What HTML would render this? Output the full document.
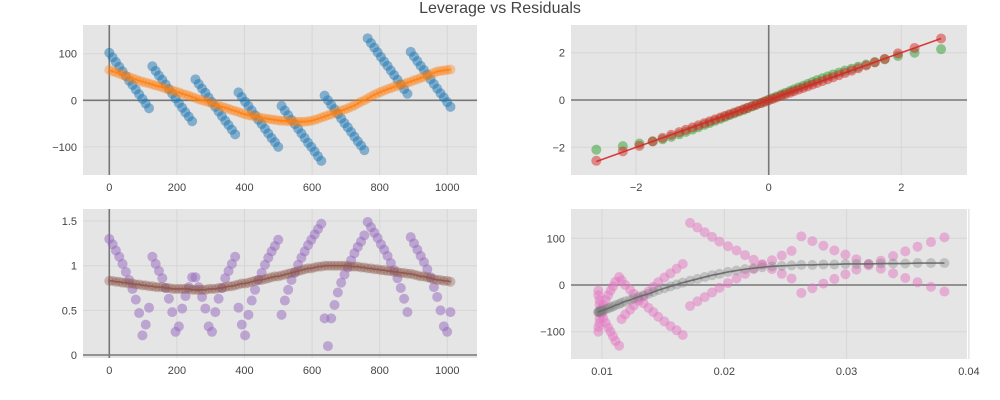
<!DOCTYPE html>
<html><head><meta charset="utf-8"><style>
body{margin:0;background:#fff;width:1000px;height:400px;overflow:hidden}
svg{display:block;font-family:"Liberation Sans",sans-serif}
.t{font-size:11px;fill:#444}
</style></head><body>
<svg id="c" width="1000" height="400">
<text x="500" y="13" text-anchor="middle" font-size="16" fill="#444">Leverage vs Residuals</text>
</svg>
<script>
const xIdx=[0,9.8,19.6,29.4,39.2,49,58.8,68.6,78.4,88.2,98,107.8,117.6,127.4,137.2,147,156.8,166.6,176.4,186.2,196,205.8,215.6,225.4,235.2,245,254.8,264.6,274.4,284.2,294,303.8,313.6,323.4,333.2,343,352.8,362.6,372.4,382.2,392,401.8,411.6,421.4,431.2,441,450.8,460.6,470.4,480.2,490,499.8,509.6,519.4,529.2,539,548.8,558.6,568.4,578.2,588,597.8,607.6,617.4,627.2,637,646.8,656.6,666.4,676.2,686,695.8,705.6,715.4,725.2,735,744.8,754.6,764.4,774.2,784,793.8,803.6,813.4,823.2,833,842.8,852.6,862.4,872.2,882,891.8,901.6,911.4,921.2,931,940.8,950.6,960.4,970.2,980,989.8,999.6,1009.4];
const resid=[102,92,82,72,62,52,42,33,23,13,3,-7,-17, 73,63,53,44,34,24,14,4,-6,-16,-26,-35,-45, 45,35,25,16,6,-4,-14,-24,-34,-44,-53,-63,-73, 17,7,-3,-12,-22,-32,-42,-51,-61,-71,-81,-90,-100, -12,-22,-32,-42,-51,-61,-71,-81,-91,-100,-110,-120,-130, 10,0,-10,-19,-29,-39,-49,-58,-68,-78,-88,-97,-107, 133,123,113,103,93,83,74,64,54,44,34,24,14, 104,94,84,74,65,55,45,35,25,15,6,-4,-14];
const fitted=[65,62,60,57,55,52,50,47,45,42,40,38,36,34,32,30,28,25,23,21,19,17,14,12,10,7,5,2,0,-2,-4,-7,-9,-11,-14,-16,-18,-21,-23,-25,-28,-30,-32,-33,-35,-36,-38,-39,-40,-41,-42,-43,-44,-44,-45,-45,-46,-46,-46,-46,-45,-44,-42,-40,-37,-35,-32,-30,-27,-25,-22,-20,-17,-14,-11,-7,-3,0,4,8,12,15,18,21,24,26,29,31,33,35,38,40,43,45,48,50,53,56,59,62,63,64,65,66];
const scaleLoc=[1.30,1.24,1.17,1.10,1.02,0.93,0.84,0.74,0.62,0.47,0.22,0.34,0.53, 1.10,1.02,0.94,0.86,0.75,0.63,0.48,0.26,0.32,0.52,0.66,0.76,0.87, 0.87,0.76,0.65,0.52,0.32,0.26,0.48,0.63,0.75,0.86,0.94,1.02,1.10, 0.53,0.34,0.22,0.45,0.61,0.73,0.84,0.92,1.01,1.09,1.16,1.22,1.29, 0.45,0.61,0.73,0.84,0.92,1.01,1.09,1.16,1.23,1.29,1.35,1.41,1.47, 0.41,0.10,0.41,0.56,0.70,0.81,0.90,0.98,1.06,1.14,1.21,1.27,1.34, 1.49,1.43,1.37,1.31,1.24,1.18,1.11,1.03,0.95,0.86,0.75,0.63,0.48, 1.32,1.25,1.18,1.11,1.04,0.96,0.87,0.76,0.65,0.50,0.32,0.26,0.48];
const scaleFit=[.83,.83,.82,.82,.81,.81,.80,.80,.79,.79,.78,.78,.77,.77,.76,.76,.76,.75,.75,.74,.74,.74,.74,.74,.74,.73,.73,.73,.73,.73,.74,.74,.74,.75,.75,.76,.77,.77,.78,.79,.80,.80,.81,.82,.83,.84,.84,.85,.86,.87,.88,.88,.89,.90,.91,.92,.93,.94,.95,.96,.97,.97,.98,.99,.99,1.0,1.0,1.0,1.0,1.0,1.0,1.0,1.0,.99,.99,.99,.98,.98,.97,.97,.96,.96,.95,.95,.94,.94,.93,.93,.92,.92,.91,.91,.90,.89,.88,.88,.87,.86,.85,.84,.84,.83,.83,.82];
const qTheo=[-2.6,-2.2,-1.95,-1.75,-1.6,-1.47,-1.35,-1.25,-1.15,-1.06,-0.97,-0.89,-0.81,-0.73,-0.66,-0.59,-0.52,-0.45,-0.38,-0.32,-0.25,-0.19,-0.12,-0.06,0,0.06,0.12,0.19,0.25,0.32,0.38,0.45,0.52,0.59,0.66,0.73,0.81,0.89,0.97,1.06,1.15,1.25,1.35,1.47,1.6,1.75,1.95,2.2,2.6];
const qRed=[-2.57,-2.17,-1.94,-1.75,-1.6,-1.47,-1.36,-1.26,-1.16,-1.07,-0.98,-0.9,-0.82,-0.74,-0.67,-0.6,-0.53,-0.46,-0.39,-0.33,-0.26,-0.2,-0.13,-0.07,-0.01,0.05,0.11,0.18,0.24,0.31,0.37,0.44,0.51,0.58,0.65,0.72,0.8,0.88,0.96,1.05,1.14,1.24,1.34,1.46,1.59,1.74,1.97,2.2,2.6];
const qGreen=[-2.1,-1.95,-1.84,-1.75,-1.66,-1.56,-1.45,-1.35,-1.25,-1.15,-1.05,-0.97,-0.88,-0.8,-0.72,-0.64,-0.57,-0.49,-0.42,-0.35,-0.27,-0.2,-0.13,-0.06,0.01,0.08,0.15,0.23,0.3,0.38,0.45,0.53,0.6,0.68,0.76,0.84,0.92,1.0,1.08,1.16,1.24,1.32,1.41,1.5,1.6,1.72,1.86,2.0,2.15];
const lev=[.0380,.0369,.0358,.0348,.0338,.0328,.0318,.0308,.0299,.0290,.0281,.0272,.0263,.0255,.0247,.0239,.0231,.0224,.0217,.0210,.0203,.0196,.0190,.0184,.0178,.0172,.0166,.0161,.0156,.0151,.0146,.0142,.0138,.0134,.0130,.0126,.0123,.0119,.0116,.0114,.0111,.0109,.0107,.0105,.0103,.0101,.0100,.0099,.0098,.0098,.0097,.0097,.0097,.0097,.0098,.0098,.0099,.0100,.0101,.0103,.0105,.0107,.0109,.0111,.0114,.0116,.0119,.0123,.0126,.0130,.0134,.0138,.0142,.0146,.0151,.0156,.0161,.0166,.0172,.0178,.0184,.0190,.0196,.0203,.0210,.0217,.0224,.0231,.0239,.0247,.0255,.0263,.0272,.0281,.0290,.0299,.0308,.0318,.0328,.0338,.0348,.0358,.0369,.0380];
const levSmoothX=[.0380,.0369,.0358,.0348,.0338,.0328,.0318,.0308,.0299,.0290,.0281,.0272,.0263,.0255,.0247,.0239,.0231,.0224,.0217,.0210,.0203,.0196,.0190,.0184,.0178,.0172,.0166,.0161,.0156,.0151,.0146,.0142,.0138,.0134,.0130,.0126,.0123,.0119,.0116,.0114,.0111,.0109,.0107,.0105,.0103,.0101,.0100,.0099,.0098,.0098,.0097,.0097];
const levSmoothY=[47,47,47,46,46,46,45,45,45,44,44,43,43,42,41,40,38,36,34,31,28,24,21,17,13,9,5,1,-3,-7,-11,-15,-19,-22,-25,-29,-32,-35,-38,-41,-43,-46,-48,-50,-52,-54,-55,-56,-57,-57,-58,-58];
const ticksTLx=[0,200,400,600,800,1000], ticksTLy=[-100,0,100];
const ticksTRx=[-2,0,2], ticksTRy=[-2,0,2];
const ticksBLy=[0,0.5,1,1.5], ticksBLyLab=["0","0.5","1","1.5"];
const ticksBRx=[0.01,0.02,0.03,0.04], ticksBRy=[-100,0,100];

const NS="http://www.w3.org/2000/svg", svg=document.getElementById('c');
function mk(tag,at,par){const e=document.createElementNS(NS,tag);for(const k in at)e.setAttribute(k,at[k]);(par||svg).appendChild(e);return e;}
function lin(d0,d1,r0,r1){return v=>r0+(v-d0)/(d1-d0)*(r1-r0);}
function fmt(v){return v<0?'\u2212'+(-v):String(v);}
function panel(name,x0,y0,x1,y1,sx,sy,xt,yt,xl,yl,zx,zy){
  const g=mk('g',{});
  
  
  const r=mk('rect',{x:x0,y:y0,width:x1-x0,height:y1-y0,fill:'#e5e5e5'},g);
  
  
  xt.forEach((v,i)=>{const X=sx(v);
    const l=mk('line',{x1:X,x2:X,y1:y0,y2:y1,stroke:'#d6d6d6','stroke-width':1},g);
    
    
    const t=mk('text',{x:X,y:y1+16,'text-anchor':'middle',class:'t'},g);t.textContent=xl?xl[i]:fmt(v);
    
    });
  yt.forEach((v,i)=>{const Y=sy(v);
    const l=mk('line',{x1:x0,x2:x1,y1:Y,y2:Y,stroke:'#d6d6d6','stroke-width':1},g);
    
    
    const t=mk('text',{x:x0-6,y:Y+4,'text-anchor':'end',class:'t'},g);t.textContent=yl?yl[i]:fmt(v);
    
    });
  if(zy){const l=mk('line',{x1:x0,x2:x1,y1:sy(0),y2:sy(0),stroke:'#777','stroke-width':1.6},g);
    
    }
  if(zx){const l=mk('line',{x1:sx(0),x2:sx(0),y1:y0,y2:y1,stroke:'#777','stroke-width':1.6},g);
    
    }
  return g;
}
function dots(g,xs,ys,sx,sy,col,nm,op){xs.forEach((x,i)=>{
  const c=mk('circle',{cx:sx(x),cy:sy(ys[i]),r:5,fill:col,'fill-opacity':op||0.5},g);
  
  });}
function line(g,xs,ys,sx,sy,col,nm){
  const p=mk('polyline',{points:xs.map((x,i)=>sx(x)+','+sy(ys[i])).join(' '),fill:'none',stroke:col,'stroke-width':1.6,'stroke-opacity':0.9},g);
  
  }

// top-left
let sx=lin(0,1000,109.3,447.3), sy=lin(0,100,100.3,53.7);
let g=panel('residuals-vs-index',83,25,477,175,sx,sy,ticksTLx,ticksTLy,null,null,true,true);
dots(g,xIdx,resid,sx,sy,'#1f77b4','residual-point');
dots(g,xIdx,fitted,sx,sy,'#ff7f0e','smooth-point',0.35);
line(g,xIdx,fitted,sx,sy,'#ff7f0e','smooth-line');
// top-right
sx=lin(0,2,768.7,901.3); sy=lin(0,2,100,52.7);
g=panel('qq',571,25,967,175,sx,sy,ticksTRx,ticksTRy,null,null,true,true);
dots(g,qTheo,qGreen,sx,sy,'#2ca02c','qq-green-point');
dots(g,qTheo,qRed,sx,sy,'#d62728','qq-red-point');
line(g,[qTheo[0],qTheo[qTheo.length-1]],[qTheo[0],qTheo[qTheo.length-1]],sx,sy,'#d62728','qq-reference-line');
// bottom-left
sx=lin(0,1000,109.3,447.3); sy=lin(0,1,355,265.7);
g=panel('scale-location',83,209,477,358,sx,sy,ticksTLx,ticksBLy,null,ticksBLyLab,true,true);
dots(g,xIdx,scaleLoc,sx,sy,'#9467bd','scale-location-point');
dots(g,xIdx,scaleFit,sx,sy,'#8c564b','scale-smooth-point',0.35);
line(g,xIdx,scaleFit,sx,sy,'#8c564b','scale-smooth-line');
// bottom-right
sx=lin(0.01,0.02,602,724.3); sy=lin(0,100,285,238.3);
g=panel('leverage',571,209,967,359,sx,sy,ticksBRx,ticksBRy,null,null,false,true);
dots(g,lev,resid,sx,sy,'#e377c2','leverage-point');
dots(g,levSmoothX,levSmoothY,sx,sy,'#7f7f7f','leverage-smooth-point',0.35);
line(g,levSmoothX,levSmoothY,sx,sy,'#666','leverage-smooth-line');
</script>
</body></html>
